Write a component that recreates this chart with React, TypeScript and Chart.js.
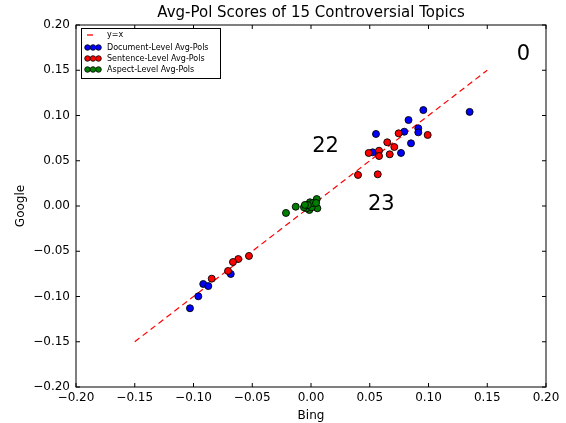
import React, { useEffect, useRef } from 'react';
import { Chart, registerables } from 'chart.js';

Chart.register(...registerables);

const FONT = '"DejaVu Sans", "Liberation Sans", sans-serif';

const titleText = 'Avg-Pol Scores of 15 Controversial Topics';
const xLabel = 'Bing';
const yLabel = 'Google';

// Document-Level Avg-Pols
const docX = [0.135, 0.0956, 0.083, 0.0553, 0.0794, 0.0913, 0.0913, 0.0851, 0.0525, 0.0766, -0.0683, -0.0917, -0.0959, -0.103, -0.0874];
const docY = [0.104, 0.106, 0.095, 0.0796, 0.0821, 0.0859, 0.0814, 0.0693, 0.0593, 0.0586, -0.0751, -0.0862, -0.0998, -0.113, -0.0885];

// Sentence-Level Avg-Pols
const sentX = [0.0746, 0.0993, 0.0649, 0.0709, 0.0491, 0.0579, 0.0579, 0.067, 0.04, 0.0568, -0.0528, -0.0619, -0.0664, -0.0706, -0.0845];
const sentY = [0.0803, 0.0785, 0.0704, 0.0652, 0.0586, 0.0611, 0.0552, 0.0571, 0.0343, 0.035, -0.0552, -0.0586, -0.0619, -0.0718, -0.0803];

// Aspect-Level Avg-Pols
const aspX = [-0.0213, -0.013, -0.0045, -0.0009, 0.0049, 0.0028, 0.0054, -0.0014, -0.0037, 0.0006, -0.006, 0.0017, -0.0026, 0.0043, -0.0052];
const aspY = [-0.0077, -0.0008, 0.0003, 0.0041, 0.0077, 0.0011, -0.0025, -0.0044, -0.0025, -0.0014, -0.0014, 0.0033, 0.0011, 0.0033, 0.0012];

// y = x reference line
const lineX = [-0.15, 0.15];
const lineY = [-0.15, 0.15];

// Topic annotations
const annoLabels = ['0', '22', '23'];
const annoX = [0.175, 0.001, 0.0485];
const annoY = [0.161, 0.0597, -0.0044];

const axisMin = -0.2;
const axisMax = 0.2;
const axisStep = 0.05;

const legendLabels = ['y=x', 'Document-Level Avg-Pols', 'Sentence-Level Avg-Pols', 'Aspect-Level Avg-Pols'];
const colors = { line: '#ff0000', doc: '#0000ff', sent: '#ff0000', asp: '#008000' };

const fmt = (v: number) => {
  if (Math.abs(v) < 1e-9) return '0.00';
  const s = Math.abs(v).toFixed(2);
  return v < 0 ? '\u2212' + s : s;
};

const toPts = (xs: number[], ys: number[]) => xs.map((x, i) => ({ x, y: ys[i] }));

export default function App() {
  const ref = useRef<HTMLCanvasElement>(null);

  useEffect(() => {
    const canvas = ref.current;
    if (!canvas) return;

    const framePlugin = {
      id: 'framePlugin',
      afterDatasetsDraw(chart: any) {
        const ctx = chart.ctx;
        const { left, top, right, bottom } = chart.chartArea;
        const xs = chart.scales.x;
        const ys = chart.scales.y;
        ctx.save();
        // annotations
        ctx.fillStyle = '#000';
        ctx.font = `21px ${FONT}`;
        ctx.textAlign = 'left';
        ctx.textBaseline = 'alphabetic';
        annoLabels.forEach((t, i) => {
          ctx.fillText(t, xs.getPixelForValue(annoX[i]), ys.getPixelForValue(annoY[i]));
        });
        // frame
        ctx.strokeStyle = '#000';
        ctx.lineWidth = 1;
        ctx.strokeRect(left, top, right - left, bottom - top);
        // inward ticks
        const L = 4;
        ctx.beginPath();
        xs.ticks.forEach((t: any) => {
          const px = xs.getPixelForValue(t.value);
          ctx.moveTo(px, bottom);
          ctx.lineTo(px, bottom - L);
          ctx.moveTo(px, top);
          ctx.lineTo(px, top + L);
        });
        ys.ticks.forEach((t: any) => {
          const py = ys.getPixelForValue(t.value);
          ctx.moveTo(left, py);
          ctx.lineTo(left + L, py);
          ctx.moveTo(right, py);
          ctx.lineTo(right - L, py);
        });
        ctx.stroke();
        // title
        ctx.font = `15px ${FONT}`;
        ctx.textAlign = 'center';
        ctx.textBaseline = 'middle';
        ctx.fillText(titleText, (left + right) / 2, 13);
        // legend
        const bx = left + 5;
        const by = top + 3;
        const bw = 139;
        const bh = 50;
        ctx.fillStyle = '#fff';
        ctx.fillRect(bx, by, bw, bh);
        ctx.strokeStyle = '#000';
        ctx.lineWidth = 1;
        ctx.strokeRect(bx + 0.5, by + 0.5, bw, bh);
        const rowY = [by + 7, by + 19.5, by + 30.5, by + 41.5];
        // line entry
        ctx.strokeStyle = colors.line;
        ctx.lineWidth = 1.3;
        ctx.beginPath();
        ctx.moveTo(bx + 6, rowY[0]);
        ctx.lineTo(bx + 12, rowY[0]);
        ctx.stroke();
        const markerColors = [colors.doc, colors.sent, colors.asp];
        markerColors.forEach((c, k) => {
          [bx + 6.5, bx + 12, bx + 17.5].forEach((cx) => {
            ctx.beginPath();
            ctx.arc(cx, rowY[k + 1], 2.8, 0, Math.PI * 2);
            ctx.fillStyle = c;
            ctx.fill();
            ctx.strokeStyle = '#000';
            ctx.lineWidth = 0.8;
            ctx.stroke();
          });
        });
        ctx.fillStyle = '#000';
        ctx.font = `8px ${FONT}`;
        ctx.textAlign = 'left';
        ctx.textBaseline = 'middle';
        legendLabels.forEach((t, k) => {
          ctx.fillText(t, bx + 26, rowY[k]);
        });
        ctx.restore();
      },
    };

    const chart = new Chart(canvas, {
      type: 'scatter',
      data: {
        datasets: [
          {
            type: 'line',
            label: legendLabels[0],
            data: toPts(lineX, lineY),
            borderColor: colors.line,
            borderWidth: 1.2,
            borderDash: [6, 4],
            pointRadius: 0,
            fill: false,
            order: 4,
          } as any,
          {
            label: legendLabels[1],
            data: toPts(docX, docY),
            backgroundColor: colors.doc,
            borderColor: '#000',
            borderWidth: 0.9,
            pointRadius: 3.5,
            order: 3,
          },
          {
            label: legendLabels[2],
            data: toPts(sentX, sentY),
            backgroundColor: colors.sent,
            borderColor: '#000',
            borderWidth: 0.9,
            pointRadius: 3.5,
            order: 2,
          },
          {
            label: legendLabels[3],
            data: toPts(aspX, aspY),
            backgroundColor: colors.asp,
            borderColor: '#000',
            borderWidth: 0.9,
            pointRadius: 3.5,
            order: 1,
          },
        ],
      },
      options: {
        animation: false,
        responsive: false,
        devicePixelRatio: 1,
        layout: { padding: { top: 25, right: 20, left: 0, bottom: 0 } },
        plugins: {
          legend: { display: false },
          title: { display: false },
          tooltip: { enabled: false },
        },
        scales: {
          x: {
            type: 'linear',
            min: axisMin,
            max: axisMax,
            grid: { display: false, drawTicks: false },
            border: { display: false },
            ticks: {
              stepSize: axisStep,
              callback: (v: any) => fmt(Number(v)),
              font: { family: FONT, size: 12 },
              color: '#000',
              padding: 4,
              maxRotation: 0,
              autoSkip: false,
            },
            title: {
              display: true,
              text: xLabel,
              font: { family: FONT, size: 12 },
              color: '#000',
              padding: { top: 0, bottom: 0 },
            },
            afterFit: (s: any) => {
              s.height = 36;
            },
          },
          y: {
            type: 'linear',
            min: axisMin,
            max: axisMax,
            grid: { display: false, drawTicks: false },
            border: { display: false },
            ticks: {
              stepSize: axisStep,
              callback: (v: any) => fmt(Number(v)),
              font: { family: FONT, size: 12 },
              color: '#000',
              padding: 6,
              autoSkip: false,
            },
            title: {
              display: true,
              text: yLabel,
              font: { family: FONT, size: 12 },
              color: '#000',
              padding: { top: 14, bottom: 0 },
            },
            afterFit: (s: any) => {
              s.width = 76;
            },
          },
        },
      },
      plugins: [framePlugin],
    });

    return () => chart.destroy();
  }, []);

  return (
    <div style={{ position: 'absolute', left: 0, top: 0, width: 566, height: 423, background: '#fff' }}>
      <canvas ref={ref} width={566} height={423} style={{ display: 'block', width: 566, height: 423 }} />
    </div>
  );
}
